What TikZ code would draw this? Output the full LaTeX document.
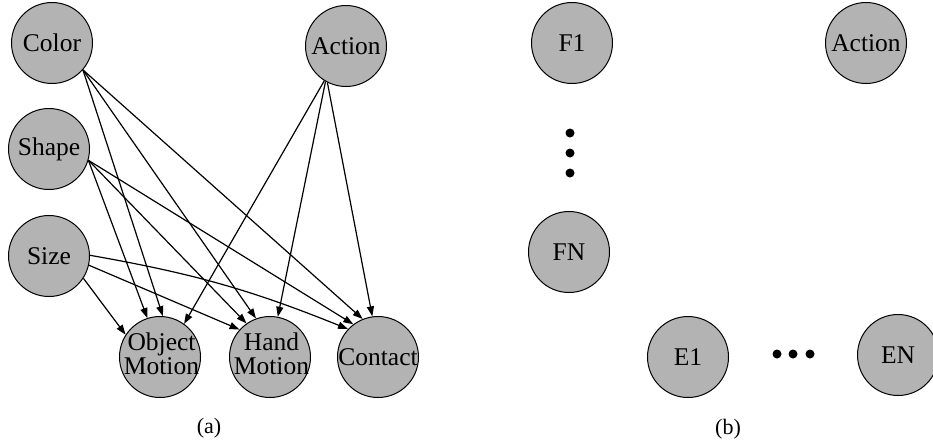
\documentclass[tikz,border=0pt]{standalone}
\usepackage{fontspec}
\setmainfont{Liberation Serif}
\usetikzlibrary{arrows.meta}
\definecolor{nodegray}{RGB}{179,179,179}
\newcommand\lbl[1]{\makebox[0pt]{#1}}
\begin{document}
\begin{tikzpicture}[x=1pt,y=-1pt,
  var/.style={circle,draw=black,fill=nodegray,line width=1pt,minimum size=81pt,inner sep=0pt,font=\fontsize{25.5}{22.5}\selectfont},
  edge/.style={line width=1.2pt,-{Triangle[length=10pt,width=7pt]}},
  bigdot/.style={circle,fill=black,minimum size=9pt,inner sep=0pt},
  sublabel/.style={font=\fontsize{22}{26}\selectfont}]
\useasboundingbox (0,0) rectangle (933,445);
% (a)
\node[var] (color) at (52,43) {\lbl{Color}};
\node[var] (shape) at (49,149) {\lbl{Shape}};
\node[var] (size) at (49,256) {\lbl{Size}};
\node[var] (act) at (346,46) {\lbl{Action}};
\node[var] (om) at (160,357) {\lbl{\hspace{3pt}\begin{tabular}{@{}c@{}}Object\\Motion\end{tabular}}};
\node[var] (hm) at (270,357) {\lbl{\hspace{3pt}\begin{tabular}{@{}c@{}}Hand\\Motion\end{tabular}}};
\node[var] (ct) at (378,357) {\lbl{Contact}};
\draw[edge] (color.-41) -- (om.86);
\draw[edge] (color.-41) -- (hm.110);
\draw[edge] (color.-41) -- (ct.112);
\draw[edge] (shape.-16) -- (om.108);
\draw[edge] (shape.-16) -- (hm.125);
\draw[edge] (shape.-16) -- (ct.127);
\draw[edge] (size.-33) -- (om.147);
\draw[edge] (size.-13) -- (hm.138);
\draw[edge] (size.1) to[bend left=6] (ct.137);
\draw[edge] (act.-122) -- (om.54);
\draw[edge] (act.-120) -- (hm.79);
\draw[edge] (act.-117) -- (ct.98);
\node[sublabel] (la) at (209,428) {(a)};
% (b)
\node[var] (f1) at (572,43) {\lbl{F1}};
\node[var] (actb) at (866,43) {\lbl{Action}};
\node[bigdot] (vd1) at (570,133) {};
\node[bigdot] (vd2) at (570,153) {};
\node[bigdot] (vd3) at (570,173) {};
\node[var] (fn) at (569,252) {\lbl{FN}};
\node[var] (e1) at (688,357) {\lbl{E1}};
\node[bigdot] (hd1) at (777,354) {};
\node[bigdot] (hd2) at (793,354) {};
\node[bigdot] (hd3) at (810,354) {};
\node[var] (en) at (898,355) {\lbl{EN}};
\node[sublabel] (lb) at (728,429) {(b)};
\end{tikzpicture}
\end{document}
